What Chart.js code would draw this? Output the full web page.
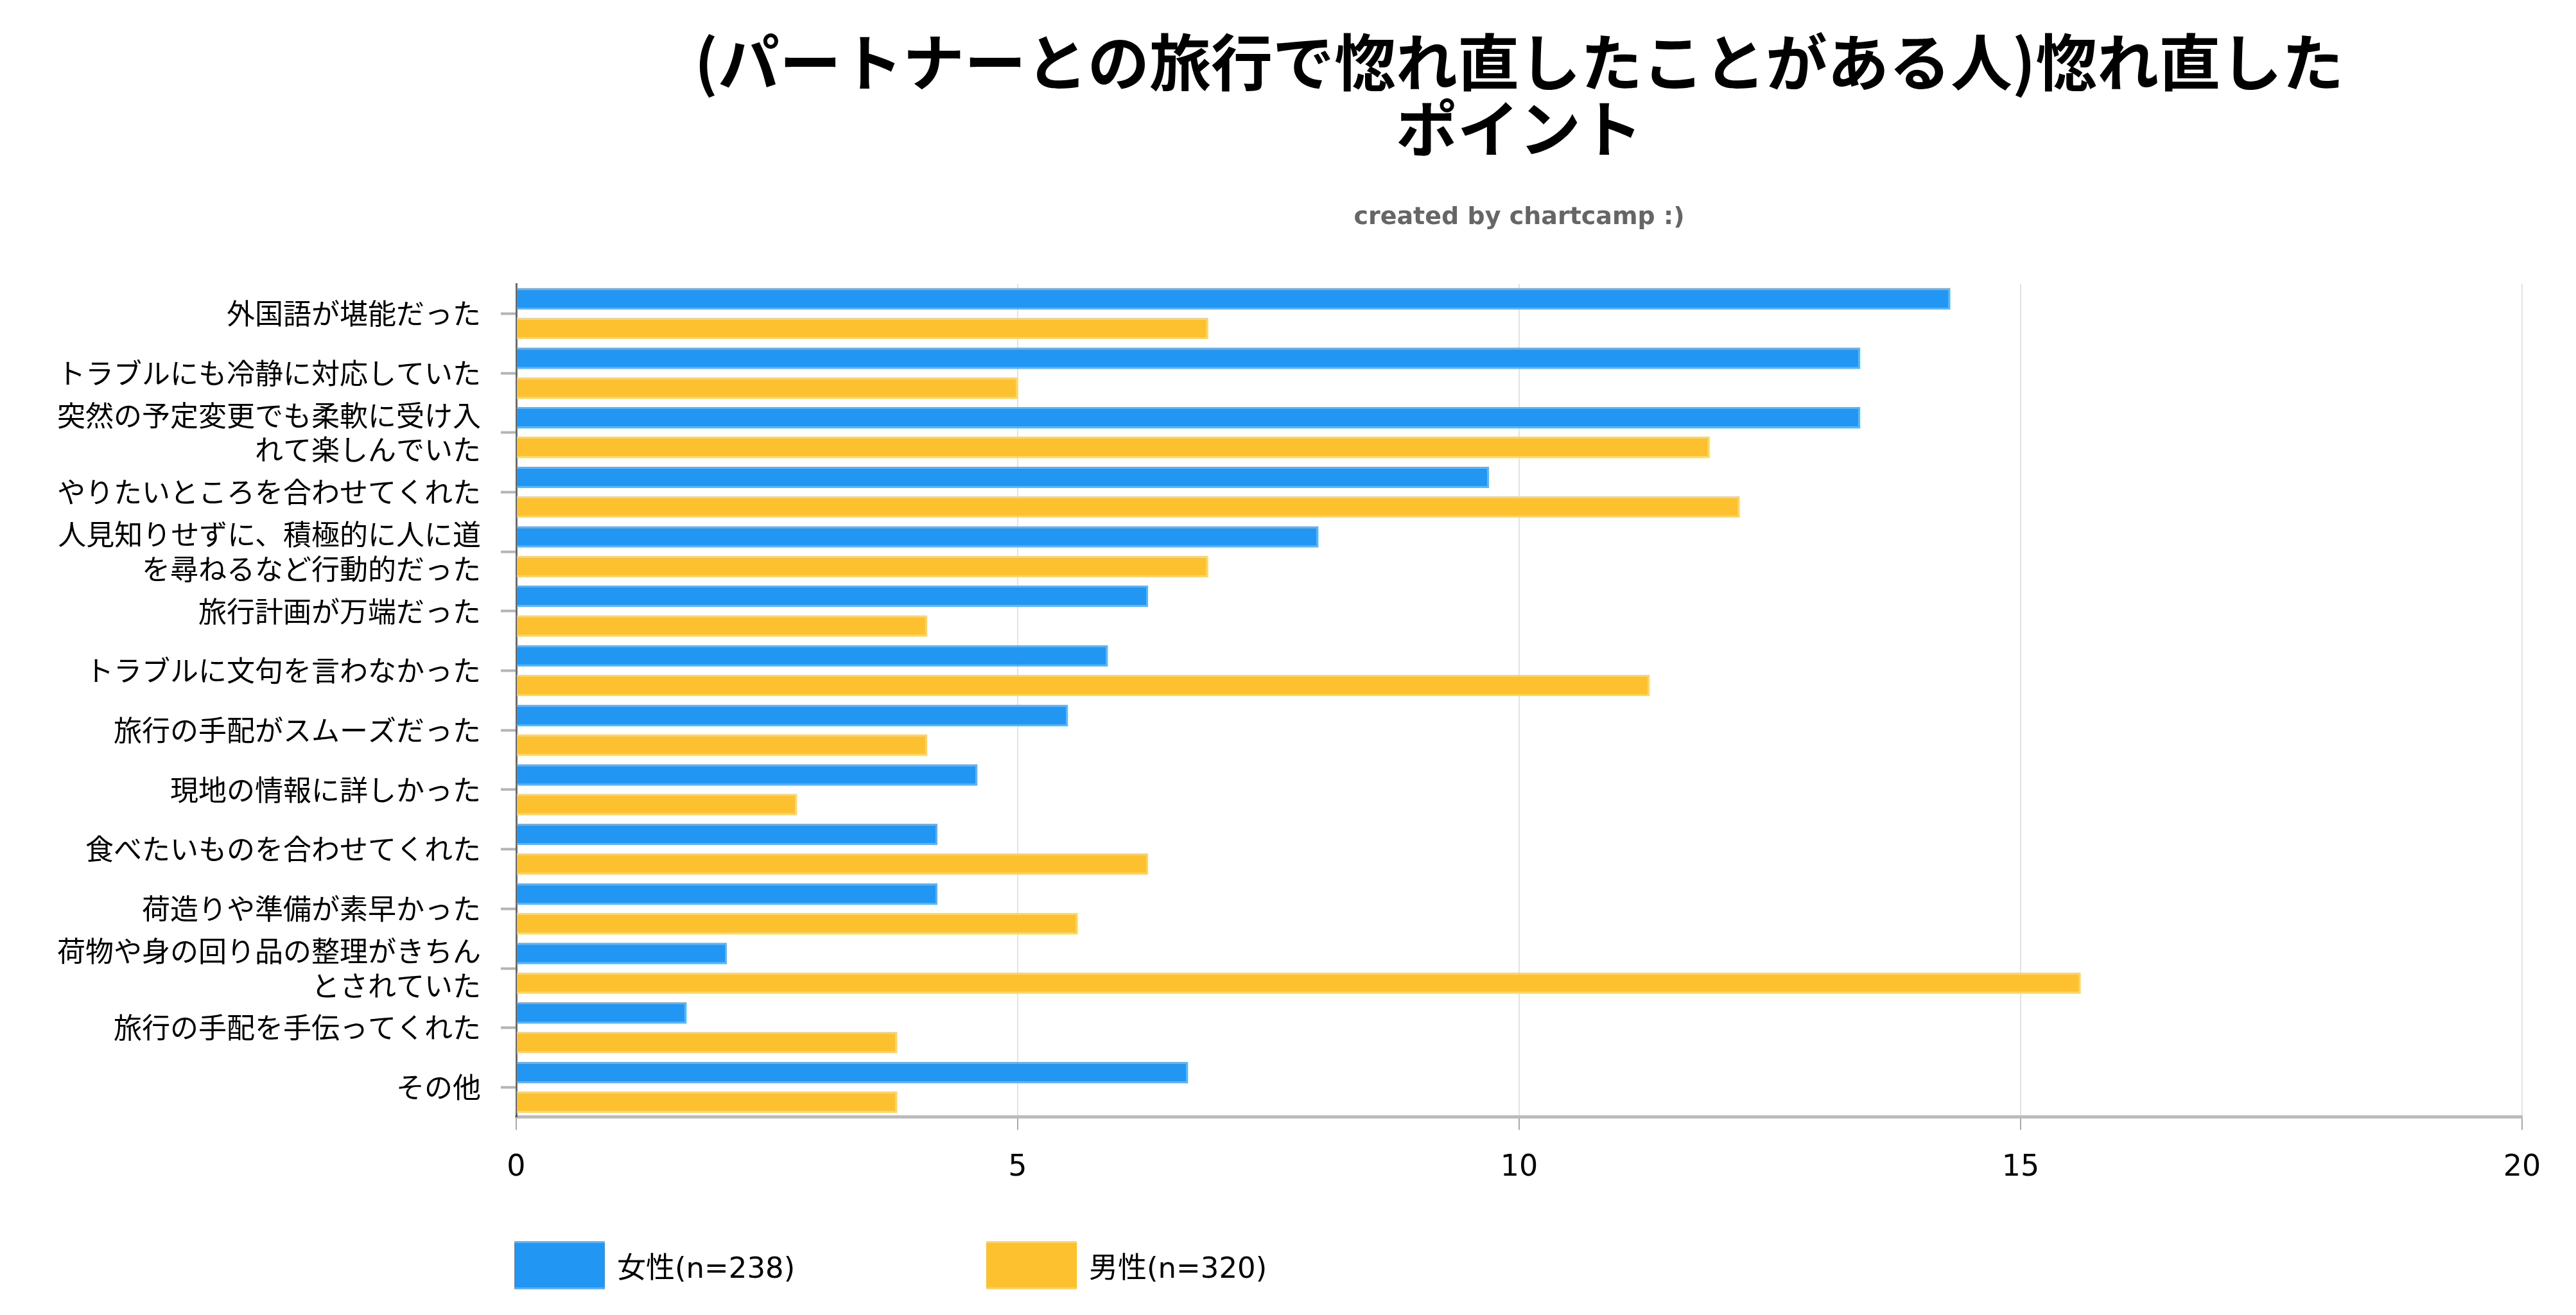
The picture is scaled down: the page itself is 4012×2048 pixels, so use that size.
<!DOCTYPE html>
<html>
<head>
<meta charset="utf-8">
<script src="https://cdn.jsdelivr.net/npm/chart.js@4.4.0/dist/chart.umd.min.js"></script>
<style>
  html, body { margin: 0; padding: 0; background: #fff; }
  #wrap { position: relative; width: 4012px; height: 2048px; overflow: hidden; }
  #c { position: absolute; left: 0; top: 0; }
  .legend-item { position: absolute; display: flex; align-items: center; height: 75px;
    font-family: "DejaVu Sans", "Noto Sans CJK JP", sans-serif; font-size: 45px; color: #000; white-space: nowrap; }
  .legend-box { box-sizing: border-box; width: 141px; height: 75px; margin-right: 19px; border-style: solid; border-width: 3px 0; }
</style>
</head>
<body>
<div id="wrap">
  <canvas id="c" width="4012" height="2048"></canvas>
  <div id="legend"></div>
</div>
<script>
// ---- data ----
const categories = [
  '外国語が堪能だった',
  'トラブルにも冷静に対応していた',
  ['突然の予定変更でも柔軟に受け入', 'れて楽しんでいた'],
  'やりたいところを合わせてくれた',
  ['人見知りせずに、積極的に人に道', 'を尋ねるなど行動的だった'],
  '旅行計画が万端だった',
  'トラブルに文句を言わなかった',
  '旅行の手配がスムーズだった',
  '現地の情報に詳しかった',
  '食べたいものを合わせてくれた',
  '荷造りや準備が素早かった',
  ['荷物や身の回り品の整理がきちん', 'とされていた'],
  '旅行の手配を手伝ってくれた',
  'その他'
];
const seriesNames = ['女性(n=238)', '男性(n=320)'];
const female = [14.3, 13.4, 13.4, 9.7, 8.0, 6.3, 5.9, 5.5, 4.6, 4.2, 4.2, 2.1, 1.7, 6.7];
const male   = [6.9, 5.0, 11.9, 12.2, 6.9, 4.1, 11.3, 4.1, 2.8, 6.3, 5.6, 15.6, 3.8, 3.8];
const xTicks = [0, 5, 10, 15, 20];
const titleLines = ['(パートナーとの旅行で惚れ直したことがある人)惚れ直した', 'ポイント'];
const subtitleText = 'created by chartcamp :)';

// ---- styles ----
const fills = ['#2196F3', '#FDC02F'];
const edges = ['#5DB1F6', '#FDD467'];

const chart = new Chart(document.getElementById('c'), {
  type: 'bar',
  data: {
    labels: categories,
    datasets: [
      { label: seriesNames[0], data: female, backgroundColor: fills[0], borderColor: edges[0], borderWidth: 3, borderSkipped: 'start' },
      { label: seriesNames[1], data: male, backgroundColor: fills[1], borderColor: edges[1], borderWidth: 3, borderSkipped: 'start' }
    ]
  },
  options: {
    indexAxis: 'y',
    responsive: false,
    devicePixelRatio: 1,
    animation: false,
    categoryPercentage: 0.995,
    barPercentage: 0.726,
    layout: { padding: { left: 0, right: 84, top: 0, bottom: 169 } },
    plugins: {
      legend: { display: false },
      tooltip: { enabled: false },
      title: {
        display: true, text: titleLines, fullSize: false, color: '#000',
        font: { family: '"Noto Sans CJK JP", sans-serif', size: 96, weight: 'bold', lineHeight: 1.07 },
        padding: { top: 45, bottom: 30 }
      },
      subtitle: {
        display: true, text: subtitleText, fullSize: false, color: '#666',
        font: { family: '"DejaVu Sans", sans-serif', size: 38, weight: 'bold', lineHeight: 1.2 },
        padding: { top: 36, bottom: 80 }
      }
    },
    scales: {
      x: {
        position: 'bottom', min: 0, max: 20,
        afterBuildTicks: s => { s.ticks = xTicks.map(v => ({ value: v })); },
        ticks: { color: '#000', padding: 32, maxRotation: 0,
          font: { family: '"DejaVu Sans", sans-serif', size: 46, lineHeight: 1.2 } },
        grid: { color: '#e3e3e3', lineWidth: 2, tickLength: 20, tickColor: '#aaa', tickWidth: 2 },
        border: { color: '#bbb', width: 5 }
      },
      y: {
        afterFit: s => { s.width = 804; },
        ticks: { color: '#000', padding: 31, autoSkip: false,
          font: { family: '"Noto Sans CJK JP", sans-serif', size: 44, lineHeight: 1.22 } },
        grid: { drawOnChartArea: false, offset: false, tickLength: 24, tickWidth: 4, tickColor: '#b4b4b4' },
        border: { color: 'rgba(0,0,0,0.55)', width: 3 }
      }
    }
  }
});

// ---- HTML legend built from datasets ----
const legendPos = [[801, 1933], [1536, 1933]];
const legendEl = document.getElementById('legend');
chart.data.datasets.forEach((ds, i) => {
  const item = document.createElement('div');
  item.className = 'legend-item';
  item.style.left = legendPos[i][0] + 'px';
  item.style.top = legendPos[i][1] + 'px';
  const box = document.createElement('span');
  box.className = 'legend-box';
  box.style.background = ds.backgroundColor;
  box.style.borderColor = ds.borderColor;
  const txt = document.createElement('span');
  txt.textContent = ds.label;
  item.appendChild(box);
  item.appendChild(txt);
  legendEl.appendChild(item);
});
</script>
</body>
</html>
